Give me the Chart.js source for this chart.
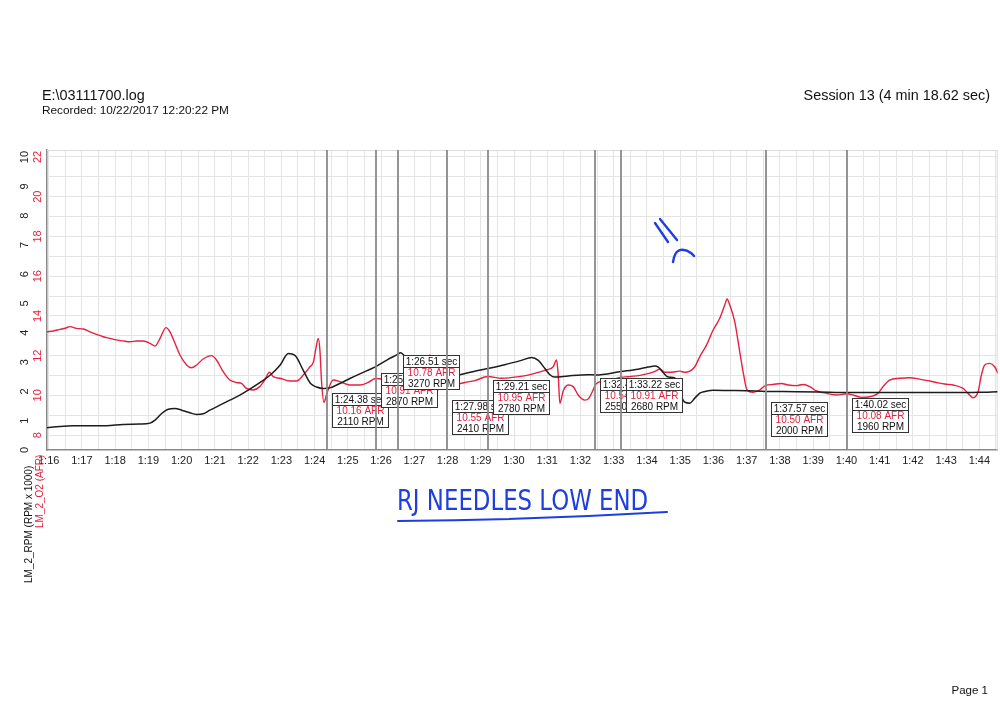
<!DOCTYPE html>
<html>
<head>
<meta charset="utf-8">
<script src="https://cdn.jsdelivr.net/npm/chart.js@4.4.0/dist/chart.umd.min.js"></script>
<style>
html,body{margin:0;padding:0;background:#fff;}
body{width:1000px;height:708px;position:relative;overflow:hidden;font-family:"Liberation Sans",Arial,sans-serif;}
#c{position:absolute;left:0;top:0;}
.t{position:absolute;white-space:nowrap;line-height:1;color:#111;}
.rot{transform:rotate(-90deg);transform-origin:0 0;}
#hw{color:#1f3ee0;font-family:"Liberation Sans Narrow","DejaVu Sans Condensed","Liberation Sans",sans-serif;transform-origin:0 0;}
svg{position:absolute;left:0;top:0;pointer-events:none;}
</style>
</head>
<body>
<canvas id="c" width="1000" height="708"></canvas>
<div class="t" style="left:42px;top:87.8px;font-size:14.4px;">E:\03111700.log</div>
<div class="t" style="left:42px;top:104.5px;font-size:11.8px;">Recorded: 10/22/2017 12:20:22 PM</div>
<div class="t" style="right:10px;top:88.3px;font-size:14.4px;">Session 13 (4 min 18.62 sec)</div>
<div class="t" style="right:12px;top:685.3px;font-size:11.5px;">Page 1</div>
<div class="t rot" style="left:24px;top:583px;font-size:10px;color:#111;">LM_2_RPM (RPM x 1000)</div>
<div class="t rot" style="left:35px;top:528px;font-size:10px;color:#e8203e;">LM_2_O2 (AFR)</div>
<div class="t" id="hw" style="left:397px;top:487px;font-size:28px;">RJ NEEDLES LOW END</div>
<svg width="1000" height="708">
  <path d="M398 521 Q 530 520 667 512" stroke="#1f3ee0" stroke-width="2" fill="none" stroke-linecap="round"/>
  <path d="M655 223 L668 242" stroke="#1f3ee0" stroke-width="2.4" fill="none" stroke-linecap="round"/>
  <path d="M660 219 L677 240" stroke="#1f3ee0" stroke-width="2.4" fill="none" stroke-linecap="round"/>
  <path d="M673 262 Q 675 248 684 250 Q 690 251 694 256" stroke="#1f3ee0" stroke-width="2.4" fill="none" stroke-linecap="round"/>
</svg>
<script>
// ---- data (time in seconds of the session, AFR, RPM x 1000) ----
const afrTimes = [75.95,76.14,76.34,76.50,76.64,76.84,77.04,77.24,77.44,77.64,77.84,78.04,78.24,78.45,78.65,78.85,79.05,79.20,79.35,79.53,79.65,79.80,79.95,80.15,80.30,80.45,80.65,80.90,81.05,81.25,81.45,81.65,81.80,81.95,82.15,82.35,82.50,82.64,82.76,82.96,83.26,83.46,83.66,83.86,83.96,84.04,84.11,84.16,84.21,84.28,84.38,84.56,84.76,85.06,85.36,85.61,85.84,86.20,86.51,87.02,87.37,87.47,87.52,87.62,87.72,87.87,87.98,88.12,88.52,88.82,89.21,89.62,90.02,90.42,90.73,90.98,91.18,91.28,91.33,91.38,91.48,91.63,91.78,91.93,92.13,92.25,92.38,92.45,92.53,92.93,93.22,93.43,93.83,94.23,94.39,94.54,94.69,94.99,95.14,95.29,95.44,95.59,95.79,95.99,96.19,96.34,96.41,96.49,96.64,96.79,96.91,97.01,97.19,97.39,97.57,97.79,98.04,98.25,98.50,98.70,98.90,99.10,99.40,99.70,100.02,100.20,100.45,100.70,100.95,101.10,101.30,101.60,101.90,102.20,102.51,102.71,102.96,103.21,103.51,103.66,103.81,103.96,104.06,104.16,104.31,104.46,104.56];
const afrValues = [13.20,13.24,13.32,13.38,13.46,13.37,13.34,13.20,13.07,12.95,12.87,12.79,12.74,12.70,12.74,12.74,12.62,12.48,12.87,13.41,13.20,12.62,12.03,11.53,11.39,11.53,11.83,12.00,11.78,11.19,10.77,10.65,10.60,10.35,10.27,10.44,10.77,11.16,10.94,10.86,10.72,10.72,11.02,11.44,11.66,12.36,12.87,12.28,10.69,9.65,10.16,10.77,10.69,10.52,10.52,10.65,10.85,10.80,10.78,10.86,10.89,12.05,11.19,9.76,10.35,10.52,10.55,10.52,10.65,10.74,10.95,10.86,10.92,11.02,11.16,11.28,11.44,11.78,11.02,9.60,10.22,10.52,10.44,10.02,9.76,9.85,10.27,10.54,10.65,10.77,10.91,10.94,11.02,11.19,11.33,11.16,11.16,11.22,11.16,11.22,11.44,11.95,12.53,13.29,13.88,14.55,14.85,14.55,13.71,12.20,11.02,10.27,10.15,10.27,10.50,10.55,10.60,10.52,10.49,10.55,10.44,10.22,10.10,10.02,10.08,10.02,9.90,9.93,10.10,10.44,10.77,10.86,10.89,10.82,10.72,10.65,10.57,10.52,10.35,10.10,9.88,10.18,11.02,11.53,11.61,11.44,11.11];
const rpmTimes = [75.95,76.34,76.74,77.24,77.74,78.24,78.75,79.05,79.20,79.40,79.60,79.80,80.00,80.25,80.45,80.65,80.85,81.15,81.45,81.75,82.05,82.35,82.66,82.96,83.21,83.41,83.66,83.88,84.06,84.26,84.38,84.46,84.76,85.06,85.36,85.81,86.21,86.51,86.58,86.80,87.20,87.60,87.98,88.32,88.82,89.21,89.72,90.22,90.53,90.73,90.93,91.08,91.23,91.63,92.23,92.45,93.22,93.73,94.03,94.24,94.34,94.49,94.64,94.84,94.99,95.14,95.29,95.44,95.59,95.68,95.98,96.50,97.00,97.57,98.50,99.50,100.02,101.00,102.00,103.00,104.00,104.55];
const rpmValues = [0.76,0.805,0.827,0.827,0.827,0.873,0.884,0.918,1.02,1.247,1.394,1.417,1.36,1.27,1.213,1.236,1.36,1.53,1.70,1.87,2.075,2.30,2.55,2.89,3.29,3.23,2.72,2.27,2.15,2.10,2.11,2.12,2.27,2.44,2.60,2.83,3.095,3.27,3.32,3.10,2.78,2.52,2.41,2.55,2.69,2.78,2.91,3.06,3.16,3.06,2.78,2.57,2.49,2.53,2.57,2.56,2.68,2.76,2.83,2.87,2.83,2.64,2.49,2.46,1.94,1.63,1.60,1.77,1.94,1.98,2.04,2.03,2.02,2.00,1.99,1.97,1.96,1.96,1.96,1.96,1.97,1.99];
// cursor read-outs
const cursorTimes = [84.38,85.84,86.51,87.98,89.21,92.45,93.22,97.57,100.02];
const cursorAFR = [10.16,10.91,10.78,10.55,10.95,10.54,10.91,10.50,10.08];
const cursorRPM = [2110,2870,3270,2410,2780,2550,2680,2000,1960];
// tick labels
const rpmTickLabels = ['0','1','2','3','4','5','6','7','8','9','10'];
const afrTickLabels = ['8','10','12','14','16','18','20','22'];

// ---- layout / style ----
const RED = '#e8203e';
const BLACK = '#1c1c1c';
const boxTops = [393,373,355,400,380,378,378,402,398];
const FONT = '"Liberation Sans", Arial, sans-serif';

function fmtTime(t){
  const m = Math.floor(t/60), s = t - m*60;
  return m + ':' + (s < 10 ? '0' : '') + s.toFixed(2);
}
function fmtTick(v){
  const m = Math.floor(v/60), s = Math.round(v - m*60);
  return m + ':' + (s < 10 ? '0' : '') + s;
}

const overlay = {
  id: 'overlay',
  beforeDatasetsDraw(chart){
    const a = chart.chartArea, c = chart.ctx;
    c.save();
    c.strokeStyle = '#dddddd'; c.lineWidth = 1;
    c.beginPath();
    c.moveTo(a.left, a.top + 0.5); c.lineTo(a.right, a.top + 0.5);
    c.moveTo(a.right - 0.5, a.top); c.lineTo(a.right - 0.5, a.bottom);
    c.stroke();
    c.restore();
  },
  afterDatasetsDraw(chart){
    const c = chart.ctx, xs = chart.scales.x, a = chart.chartArea;
    c.save();
    c.font = '10px ' + FONT;
    cursorTimes.forEach((t, i) => {
      const px = Math.round(xs.getPixelForValue(t));
      c.strokeStyle = '#8a8a8a'; c.lineWidth = 1.8;
      c.beginPath(); c.moveTo(px, a.top); c.lineTo(px, a.bottom); c.stroke();
      const lines = [fmtTime(t) + ' sec', cursorAFR[i].toFixed(2) + ' AFR', cursorRPM[i] + ' RPM'];
      const w = Math.ceil(Math.max(...lines.map(s => c.measureText(s).width))) + 4;
      const bx = px + 5 + 0.5, by = boxTops[i] + 0.5, bh = 34;
      c.fillStyle = '#fff'; c.fillRect(bx, by, w, bh);
      c.strokeStyle = '#333'; c.lineWidth = 1;
      c.strokeRect(bx, by, w, bh);
      c.beginPath(); c.moveTo(bx, by + 12); c.lineTo(bx + w, by + 12); c.stroke();
      c.textBaseline = 'middle'; c.textAlign = 'center';
      const cx = bx + w / 2;
      c.fillStyle = '#111'; c.fillText(lines[0], cx, by + 6.5);
      c.fillStyle = RED; c.fillText(lines[1], cx, by + 17.8);
      c.fillStyle = '#111'; c.fillText(lines[2], cx, by + 28.5);
    });
    c.restore();
  }
};

const chart = new Chart(document.getElementById('c'), {
  type: 'line',
  data: {
    datasets: [
      {
        label: 'LM_2_RPM (RPM x 1000)',
        data: rpmTimes.map((t, i) => ({x: t, y: rpmValues[i]})),
        yAxisID: 'rpm', borderColor: BLACK, borderWidth: 1.5,
        pointRadius: 0, cubicInterpolationMode: 'monotone', fill: false
      },
      {
        label: 'LM_2_O2 (AFR)',
        data: afrTimes.map((t, i) => ({x: t, y: afrValues[i]})),
        yAxisID: 'afr', borderColor: RED, borderWidth: 1.4,
        pointRadius: 0, cubicInterpolationMode: 'monotone', fill: false
      }
    ]
  },
  options: {
    responsive: false, animation: false, devicePixelRatio: 1,
    layout: {padding: {left: 19, top: 150, right: 2, bottom: 238}},
    plugins: {legend: {display: false}, tooltip: {enabled: false}},
    scales: {
      x: {
        type: 'linear', min: 75.95, max: 104.55,
        grid: {color: '#e4e4e4', lineWidth: 1, drawTicks: false},
        border: {color: '#8a8a8a', width: 1.5},
        ticks: {
          stepSize: 0.5, includeBounds: false, autoSkip: false, maxRotation: 0, minRotation: 0,
          padding: 4, color: '#222', font: {size: 11, family: FONT},
          callback: v => Number.isInteger(v) ? fmtTick(v) : ''
        },
        afterFit: s => { s.height = 20; }
      },
      afr: {
        type: 'linear', position: 'left', weight: 1, min: 7.25, max: 22.35,
        grid: {color: '#e4e4e4', lineWidth: 1, drawTicks: false},
        border: {color: '#8a8a8a', width: 1.5},
        ticks: {
          stepSize: 1, includeBounds: false, minRotation: 90, maxRotation: 90,
          crossAlign: 'center', padding: 3, color: RED, font: {size: 11, family: FONT},
          callback: v => afrTickLabels.includes(String(v)) ? String(v) : ''
        },
        afterFit: s => { s.width = 16; }
      },
      rpm: {
        type: 'linear', position: 'left', weight: 2, min: 0, max: 10.24,
        grid: {display: false, drawTicks: false},
        border: {display: false},
        ticks: {
          stepSize: 1, includeBounds: false, minRotation: 90, maxRotation: 90,
          crossAlign: 'center', padding: 0, color: '#222', font: {size: 11, family: FONT},
          callback: v => rpmTickLabels.includes(String(v)) ? String(v) : ''
        },
        afterFit: s => { s.width = 12; }
      }
    }
  },
  plugins: [overlay]
});

// fit the handwritten note to its width
const hw = document.getElementById('hw');
const sx = 251 / hw.getBoundingClientRect().width;
hw.style.transform = 'scaleX(' + sx.toFixed(3) + ')';
</script>
</body>
</html>
